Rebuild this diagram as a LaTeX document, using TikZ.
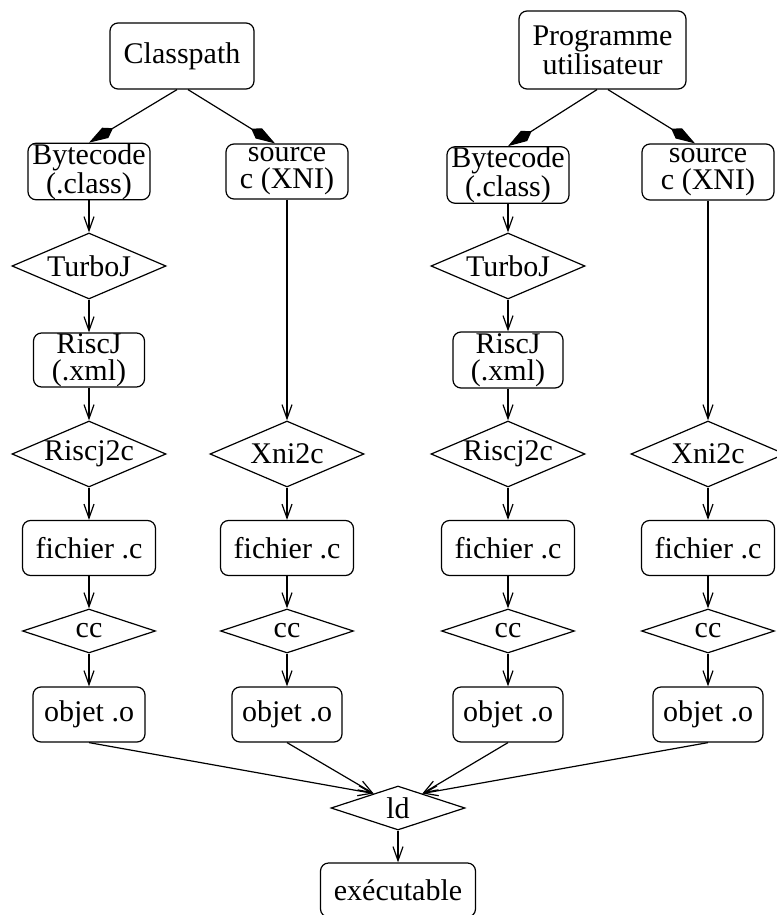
\documentclass[tikz,border=0pt]{standalone}
\usepackage{fontspec}
\setmainfont{Liberation Serif}
\usetikzlibrary{shapes.geometric, arrows.meta, positioning, calc}

\begin{document}
\begin{tikzpicture}[
    x=0.5pt, y=-0.5pt,
    font=\fontsize{15}{13.5}\selectfont,
    on grid,
    base/.style={draw, line width=0.6pt, align=center, inner sep=0pt},
    block/.style={base, rectangle, rounded corners=4pt, minimum height=27.5pt},
    decision/.style={base, diamond, aspect=2.33, minimum width=77pt, minimum height=33pt},
    flat/.style={base, diamond, aspect=3, minimum width=66.5pt, minimum height=22pt},
    arrow/.style={-{Straight Barb[length=7pt, width=5pt]}, line width=0.6pt},
    feed/.style={-{Kite[length=14pt, width=6pt, inset=4.5pt]}, line width=0.6pt}
]
    \useasboundingbox (0,0) rectangle (776,915);

    % --- sources ---
    \node [block, minimum width=72pt, minimum height=33pt] (classpath) at (182,56) {Classpath};
    \node [block, minimum width=83.5pt, minimum height=39pt] (prog) at (602.5,50) {Programme\\ utilisateur};

    % --- classpath : bytecode ---
    \node [block, minimum width=61pt, font=\fontsize{15}{11.5}\selectfont] (bcA) at (89,171.5) {Bytecode\\ (.class)};
    \node [decision] (turboA) [below=47.25pt of bcA] {TurboJ};
    \node [block, minimum width=55.5pt, minimum height=27pt] (riscjA) [below=47pt of turboA] {RiscJ\\ (.xml)};
    \node [decision] (r2cA) [below=47pt of riscjA] {Riscj2c};
    \node [block, minimum width=66.5pt] (ficA) [below=47pt of r2cA] {fichier .c};
    \node [flat] (ccA) [below=41.5pt of ficA] {cc};
    \node [block, minimum width=56pt] (objA) [below=41.75pt of ccA] {objet .o};

    % --- classpath : XNI ---
    \node [block, minimum width=61pt] (srcA) at (287,171.5) {source\\ c (XNI)};
    \node [decision] (xniA) [below=141.25pt of srcA] {Xni2c};
    \node [block, minimum width=66.5pt] (ficB) [below=47pt of xniA] {fichier .c};
    \node [flat] (ccB) [below=41.5pt of ficB] {cc};
    \node [block, minimum width=55pt] (objB) [below=41.75pt of ccB] {objet .o};

    % --- programme : bytecode ---
    \node [block, minimum width=61pt, font=\fontsize{15}{11.5}\selectfont] (bcB) at (508,175) {Bytecode\\ (.class)};
    \node [decision] (turboB) [below=45.5pt of bcB] {TurboJ};
    \node [block, minimum width=55pt, minimum height=28pt] (riscjB) [below=47pt of turboB] {RiscJ\\ (.xml)};
    \node [decision] (r2cB) [below=47pt of riscjB] {Riscj2c};
    \node [block, minimum width=66.5pt] (ficC) [below=47pt of r2cB] {fichier .c};
    \node [flat] (ccC) [below=41.5pt of ficC] {cc};
    \node [block, minimum width=55pt] (objC) [below=41.75pt of ccC] {objet .o};

    % --- programme : XNI ---
    \node [block, minimum width=66pt, minimum height=28pt] (srcB) at (708,172) {source\\ c (XNI)};
    \node [decision] (xniB) [below=141pt of srcB] {Xni2c};
    \node [block, minimum width=66.5pt] (ficD) [below=47pt of xniB] {fichier .c};
    \node [flat] (ccD) [below=41.5pt of ficD] {cc};
    \node [block, minimum width=55pt] (objD) [below=41.75pt of ccD] {objet .o};

    % --- edition de liens ---
    \node [flat, minimum width=67pt] (ld) at (398,808) {ld};
    \node [block, minimum width=77.5pt, minimum height=27pt] (exe) [below=41pt of ld] {exécutable};

    % --- connecteurs ---
    \draw [feed] ([xshift=-2.5pt]classpath.south) -- (bcA.north);
    \draw [feed] ([xshift=3pt]classpath.south) -- ([xshift=-6pt]srcA.north);
    \draw [feed] ([xshift=-2.75pt]prog.south) -- (bcB.north);
    \draw [feed] ([xshift=2.75pt]prog.south) -- ([xshift=-6.5pt]srcB.north);

    \draw [arrow] (bcA) -- (turboA);
    \draw [arrow] (turboA) -- (riscjA);
    \draw [arrow] (riscjA) -- (r2cA);
    \draw [arrow] (r2cA) -- (ficA);
    \draw [arrow] (ficA) -- (ccA);
    \draw [arrow] (ccA) -- (objA);

    \draw [arrow] (srcA) -- (xniA);
    \draw [arrow] (xniA) -- (ficB);
    \draw [arrow] (ficB) -- (ccB);
    \draw [arrow] (ccB) -- (objB);

    \draw [arrow] (bcB) -- (turboB);
    \draw [arrow] (turboB) -- (riscjB);
    \draw [arrow] (riscjB) -- (r2cB);
    \draw [arrow] (r2cB) -- (ficC);
    \draw [arrow] (ficC) -- (ccC);
    \draw [arrow] (ccC) -- (objC);

    \draw [arrow] (srcB) -- (xniB);
    \draw [arrow] (xniB) -- (ficD);
    \draw [arrow] (ficD) -- (ccD);
    \draw [arrow] (ccD) -- (objD);

    % vers ld
    \draw [arrow] (objA.south) -- ($(ld.north)!0.36!(ld.west)$);
    \draw [arrow] (objB.south) -- ($(ld.north)!0.36!(ld.west)$);
    \draw [arrow] (objC.south) -- ($(ld.north)!0.36!(ld.east)$);
    \draw [arrow] (objD.south) -- ($(ld.north)!0.36!(ld.east)$);
    \draw [arrow] (ld) -- (exe);

\end{tikzpicture}
\end{document}
